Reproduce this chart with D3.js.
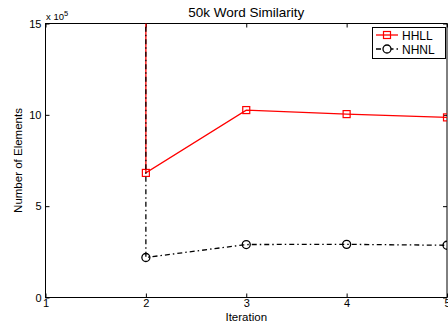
<!DOCTYPE html>
<html>
<head>
<meta charset="utf-8">
<script src="https://cdn.jsdelivr.net/npm/d3@7"></script>
<style>
  body { margin: 0; background: #fff; }
  svg { display: block; font-family: "Liberation Sans", Arial, sans-serif; }
</style>
</head>
<body>
<svg id="chart" width="448" height="324"></svg>
<script>
// data (y values in units of 1e5)
const iterations = [1, 2, 3, 4, 5];
const hhll = [50000, 6.82, 10.26, 10.04, 9.86];
const nhnl = [50000, 2.19, 2.90, 2.91, 2.86];
const xTicks = [1, 2, 3, 4, 5];
const yTicks = [0, 5, 10, 15];

const svg = d3.select('#chart');
const mLeft = 45.5, mRight = 447, mTop = 23.5, mBottom = 297.5;

const x = d3.scaleLinear().domain([1, 5]).range([mLeft, mRight]);
const y = d3.scaleLinear().domain([0, 15]).range([mBottom, mTop]);

svg.append('defs').append('clipPath').attr('id', 'clip')
  .append('rect')
  .attr('x', mLeft).attr('y', mTop)
  .attr('width', mRight - mLeft).attr('height', mBottom - mTop);

// title
svg.append('text')
  .attr('x', (mLeft + mRight) / 2).attr('y', 17)
  .attr('text-anchor', 'middle')
  .attr('font-size', 13.5)
  .text('50k Word Similarity');

// axes with inward ticks
const gx = svg.append('g').attr('transform', `translate(0,${mBottom})`)
  .call(d3.axisBottom(x).tickValues(xTicks).tickSize(-4).tickPadding(5).tickFormat(d3.format('d')));
const gxTop = svg.append('g').attr('transform', `translate(0,${mTop})`)
  .call(d3.axisTop(x).tickValues(xTicks).tickSize(-4).tickFormat(''));
const gy = svg.append('g').attr('transform', `translate(${mLeft},0)`)
  .call(d3.axisLeft(y).tickValues(yTicks).tickSize(-4).tickPadding(4).tickFormat(d3.format('d')));
const gyRight = svg.append('g').attr('transform', `translate(${mRight},0)`)
  .call(d3.axisRight(y).tickValues(yTicks).tickSize(-4).tickFormat(''));

[gx, gxTop, gy, gyRight].forEach(g => {
  g.select('.domain').remove();
  g.selectAll('line').attr('stroke', '#000');
  g.selectAll('text').attr('font-size', 11).attr('fill', '#000');
});
gx.selectAll('text').attr('dy', '0.45em');

// box
svg.append('rect')
  .attr('x', mLeft).attr('y', mTop)
  .attr('width', mRight - mLeft).attr('height', mBottom - mTop)
  .attr('fill', 'none').attr('stroke', '#000').attr('stroke-width', 1);

// exponent label
const expo = svg.append('text').attr('x', 46).attr('y', 20).attr('font-size', 9.5);
expo.append('tspan').text('x 10');
expo.append('tspan').attr('font-size', 7.5).attr('dy', -4).text('5');

// axis labels
svg.append('text')
  .attr('x', (mLeft + mRight) / 2).attr('y', 321)
  .attr('text-anchor', 'middle').attr('font-size', 11.5)
  .text('Iteration');
svg.append('text')
  .attr('transform', `translate(22,${(mTop + mBottom) / 2}) rotate(-90)`)
  .attr('text-anchor', 'middle').attr('font-size', 11.5)
  .text('Number of Elements');

const line = d3.line().x((d, i) => x(iterations[i])).y(d => y(d));
const plot = svg.append('g').attr('clip-path', 'url(#clip)');

// HHLL
plot.append('path').datum(hhll)
  .attr('d', line).attr('fill', 'none')
  .attr('stroke', '#ff0000').attr('stroke-width', 1.3);
plot.selectAll('rect.hh').data(hhll).enter().append('rect')
  .attr('class', 'hh')
  .attr('x', (d, i) => x(iterations[i]) - 3.5)
  .attr('y', d => y(d) - 3.5)
  .attr('width', 7).attr('height', 7)
  .attr('fill', 'none').attr('stroke', '#ff0000').attr('stroke-width', 1.2);

// NHNL
plot.append('path').datum(nhnl)
  .attr('d', line).attr('fill', 'none')
  .attr('stroke', '#000').attr('stroke-width', 1.3)
  .attr('stroke-dasharray', '5,3,1.5,3');
plot.selectAll('circle.nh').data(nhnl).enter().append('circle')
  .attr('class', 'nh')
  .attr('cx', (d, i) => x(iterations[i]))
  .attr('cy', d => y(d))
  .attr('r', 4)
  .attr('fill', 'none').attr('stroke', '#000').attr('stroke-width', 1.3);

// legend
const lg = svg.append('g');
lg.append('rect')
  .attr('x', 372.5).attr('y', 27.5).attr('width', 73).attr('height', 31)
  .attr('fill', '#fff').attr('stroke', '#000');
const legendItems = [
  { name: 'HHLL', color: '#ff0000', dash: null, marker: 'square' },
  { name: 'NHNL', color: '#000', dash: '5,3,1.5,3', marker: 'circle' }
];
legendItems.forEach((it, i) => {
  const ly = 35 + i * 14;
  lg.append('line')
    .attr('x1', 376).attr('x2', 398).attr('y1', ly).attr('y2', ly)
    .attr('stroke', it.color).attr('stroke-width', 1.3)
    .attr('stroke-dasharray', it.dash);
  if (it.marker === 'square') {
    lg.append('rect').attr('x', 383.5).attr('y', ly - 3.5).attr('width', 7).attr('height', 7)
      .attr('fill', 'none').attr('stroke', it.color).attr('stroke-width', 1.2);
  } else {
    lg.append('circle').attr('cx', 387).attr('cy', ly).attr('r', 4)
      .attr('fill', '#fff').attr('stroke', it.color).attr('stroke-width', 1.3);
  }
  lg.append('text').attr('x', 402).attr('y', ly + 4.5)
    .attr('font-size', 12).text(it.name);
});
</script>
</body>
</html>
